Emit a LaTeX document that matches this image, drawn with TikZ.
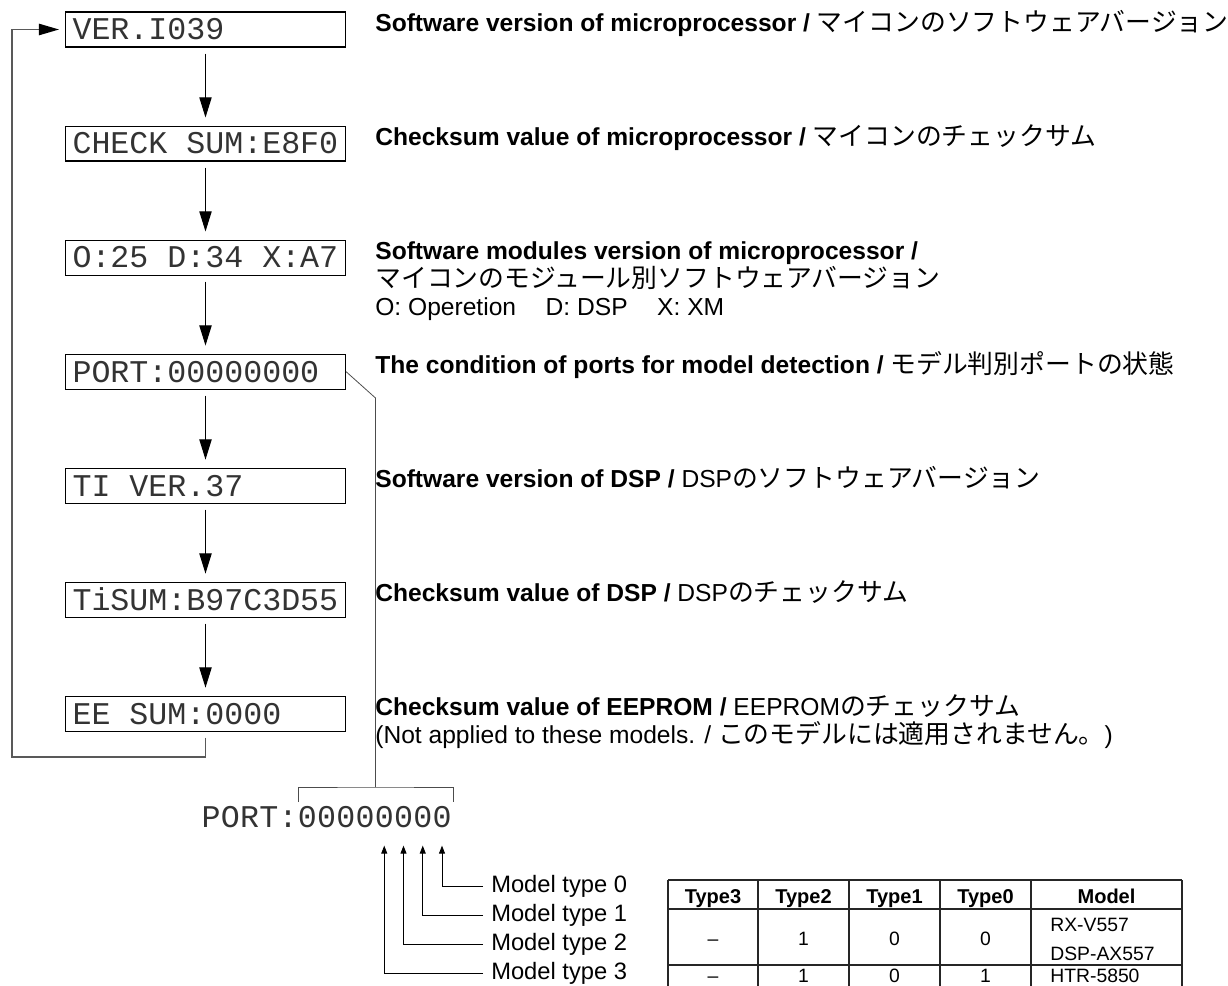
\documentclass[tikz,border=0pt]{standalone}
\usepackage{fontspec}
\setmainfont{Liberation Sans}
\newfontfamily\lcdfont{Liberation Mono}
\newfontfamily\jpfont[Scale=1.05]{Noto Sans CJK JP}
\usetikzlibrary{arrows.meta,positioning}
\newcommand{\ja}[1]{{\jpfont #1}}
\newcommand{\lcd}[1]{\makebox[5.32cm][l]{#1}}
\tikzset{
  lcdblk/.style={draw,line width=0.6pt,minimum height=0.7cm,inner xsep=0.14cm,inner ysep=0pt,text=black!80,font=\lcdfont\fontsize{18}{20}\selectfont},
  lcdchr/.style={inner sep=0pt,anchor=base,text=black!80,font=\lcdfont\fontsize{18}{20}\selectfont},
  desc/.style={anchor=base west,inner sep=0pt,align=left,font=\fontsize{14}{16}\selectfont},
  mtlbl/.style={anchor=west,inner xsep=4.5pt,inner ysep=0pt,font=\fontsize{13.5}{16}\selectfont},
  tbl/.style={anchor=base,inner sep=0pt,font=\fontsize{11}{16}\selectfont},
  tblhd/.style={anchor=base,inner sep=0pt,font=\fontsize{11.4}{13}\selectfont\bfseries},
  grid/.style={black!85,line width=0.6pt},
  arr/.style={-{Triangle[length=11.5pt,width=7pt]},line width=0.6pt,shorten <=0.12cm,shorten >=0.16cm},
  looparr/.style={-{Triangle[length=11.5pt,width=6.5pt,color=black]},black!65,line width=0.8pt,shorten <=0.12cm,shorten >=0.12cm},
  thinln/.style={black!70,line width=0.45pt},
  uparr/.style={-{Triangle[length=4.5pt,width=3.4pt]},line width=0.5pt,shorten >=0.36cm}
}

\begin{document}
\begin{tikzpicture}[x=0.02cm,y=-0.02cm,node distance=1.56cm]
  \useasboundingbox (0,0) rectangle (1228,986);
  \clip (0,0) rectangle (1228,986);

  % display screens
  \node[lcdblk] (ver) at (205.5,29.5) {\lcd{VER.I039}};
  \node[lcdblk,below=of ver] (chk) {\lcd{CHECK SUM:E8F0}};
  \node[lcdblk,below=of chk] (mods) {\lcd{O:25 D:34 X:A7}};
  \node[lcdblk,below=of mods] (port) {\lcd{PORT:00000000}};
  \node[lcdblk,below=of port] (tiver) {\lcd{TI VER.37}};
  \node[lcdblk,below=of tiver] (tisum) {\lcd{TiSUM:B97C3D55}};
  \node[lcdblk,below=of tisum] (eesum) {\lcd{EE SUM:0000}};

  \draw[arr] (ver) -- (chk);
  \draw[arr] (chk) -- (mods);
  \draw[arr] (mods) -- (port);
  \draw[arr] (port) -- (tiver);
  \draw[arr] (tiver) -- (tisum);
  \draw[arr] (tisum) -- (eesum);

  \coordinate (lpb) at (12,757);
  \draw[looparr] (eesum.south) |- (lpb) |- (ver.west);

  % descriptions
  \coordinate (dx) at (375,0);
  \node[desc] (dver) at ([yshift=-1pt]ver.center -| dx) {\textbf{Software version of microprocessor /} \ja{マイコンのソフトウェアバージョン}};
  \node[desc] (dchk) at ([yshift=-1pt]chk.center -| dx) {\textbf{Checksum value of microprocessor /} \ja{マイコンのチェックサム}};
  \node[desc] (dmods) at ([yshift=-33pt]mods.center -| dx) {\textbf{Software modules version of microprocessor /}\\
    \ja{マイコンのモジュール別ソフトウェアバージョン}\\
    O: Operetion\hspace{1.2em}D: DSP\hspace{1.2em}X: XM};
  \node[desc] (dport) at ([yshift=-1pt]port.center -| dx) {\textbf{The condition of ports for model detection /} \ja{モデル判別ポートの状態}};
  \node[desc] (dtiver) at ([yshift=-1pt]tiver.center -| dx) {\textbf{Software version of DSP /} DSP\ja{のソフトウェアバージョン}};
  \node[desc] (dtisum) at ([yshift=-1pt]tisum.center -| dx) {\textbf{Checksum value of DSP /} DSP\ja{のチェックサム}};
  \node[desc] (dee) at ([yshift=-17pt]eesum.center -| dx) {\textbf{Checksum value of EEPROM /} EEPROM\ja{のチェックサム}\\
    (Not applied to these models. / \ja{このモデルには適用されません。})};

  % port bits
  \foreach \ch [count=\i from 0] in {P,O,R,T,:,0,0,0,0,0,0,0,0}
    \node[lcdchr] (pc\i) at (211+19.25*\i,827) {\ch};

  \coordinate (pbend) at (375.5,398);
  \coordinate (brt) at (375.5,787);
  \coordinate (brl) at (298,802);
  \coordinate (brr) at (453,802);
  \draw[thinln] (port.east) -- (pbend) -- (brt);
  \draw[thinln] (brl) |- (brt) -| (brr);

  \foreach \t/\y in {0/886,1/915,2/944,3/973}
    \node[mtlbl] (mt\t) at (483,\y) {Model type \t};
  \foreach \t/\c in {0/12,1/11,2/10,3/9}
    \draw[uparr] (mt\t.west) -| (pc\c.south);

  % model table
  \foreach \x in {668,758,849,940,1031,1182}
    \draw[grid] (\x,880) -- (\x,1000);
  \foreach \y in {880,909,965}
    \draw[grid] (668,\y) -- (1182,\y);
  \foreach \h/\x in {Type3/713,Type2/803.5,Type1/894.5,Type0/985.5,Model/1106.5}
    \node[tblhd] (h\h) at (\x,903) {\h};
  \foreach \v/\x [count=\i] in {\textendash/713,1/803.5,0/894.5,0/985.5}
    \node[tbl] (ra\i) at (\x,945) {\v};
  \node[tbl,anchor=base west,align=left] (ramod) at (1050,960) {RX-V557\\DSP-AX557};
  \foreach \v/\x [count=\i] in {\textendash/713,1/803.5,0/894.5,1/985.5}
    \node[tbl] (rb\i) at (\x,982.5) {\v};
  \node[tbl,anchor=base west] (rbmod) at (1050,982.5) {HTR-5850};
\end{tikzpicture}
\end{document}
